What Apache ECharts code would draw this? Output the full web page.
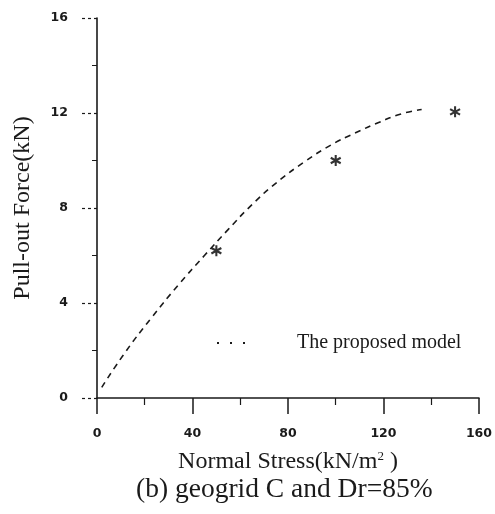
<!DOCTYPE html>
<html>
<head>
<meta charset="utf-8">
<script src="https://cdn.jsdelivr.net/npm/echarts@6/dist/echarts.min.js"></script>
<style>
  html, body { margin: 0; padding: 0; background: #fff; }
  #chart { width: 495px; height: 514px; }
</style>
</head>
<body>
<div id="chart"></div>
<script>
// 试验点
const testStress = [50, 100, 150];
const testForce = [6.2, 10.0, 12.05];

// 模型曲线
const modelStress = [2, 12, 23, 34, 45, 55, 65, 75, 87, 98, 108, 118, 127, 136];
const modelForce = [0.45, 1.95, 3.4, 4.75, 6.0, 7.1, 8.15, 9.05, 9.95, 10.65, 11.15, 11.6, 11.95, 12.15];

const xTicks = [0, 40, 80, 120, 160];
const yTicks = [0, 4, 8, 12, 16];

const serif = '"Liberation Serif", "Times New Roman", serif';
const ink = '#1a1a1a';

// 星号
const starPath = 'path://M-1.8,-10L1.8,-10L1.8,10L-1.8,10Z' +
    'M-9.6,-3.4L-7.8,-6.6L9.6,3.4L7.8,6.6Z' +
    'M-7.8,6.6L-9.6,3.4L7.8,-6.6L9.6,-3.4Z';

// 图例的点线
const dotsIcon = 'path://M0,0h2v2h-2zM13,0h2v2h-2zM26,0h2v2h-2z';

const chart = echarts.init(document.getElementById('chart'));
chart.setOption({
    animation: false,
    backgroundColor: '#fff',
    title: {
        text: '(b) geogrid C and Dr=85%',
        left: 136,
        top: 476,
        padding: 0,
        textStyle: { fontFamily: serif, fontSize: 27.5, fontWeight: 'normal', color: ink }
    },
    legend: {
        data: [{ name: 'The proposed model', icon: dotsIcon }],
        left: 217,
        top: 333,
        padding: 0,
        itemWidth: 28,
        itemHeight: 2,
        itemStyle: { color: ink, borderWidth: 0 },
        textStyle: { fontFamily: serif, fontSize: 20, color: ink, padding: [0, 0, 0, 47] }
    },
    grid: { left: 97, right: 14, top: 18, bottom: 116 },
    xAxis: {
        type: 'value',
        min: xTicks[0],
        max: xTicks[xTicks.length - 1],
        interval: 40,
        name: 'Normal Stress(kN/m{sup|2} )',
        nameLocation: 'middle',
        nameGap: 52,
        nameTextStyle: {
            fontFamily: serif, fontSize: 24, color: ink,
            rich: { sup: { fontFamily: serif, fontSize: 13, color: ink, verticalAlign: 'top', lineHeight: 13 } }
        },
        axisLine: { show: true, onZero: false, lineStyle: { color: ink, width: 1.6 } },
        axisTick: { show: true, length: 16, lineStyle: { color: ink, width: 1.5 } },
        minorTick: { show: true, splitNumber: 2, length: 7, lineStyle: { color: ink, width: 1.2 } },
        axisLabel: { margin: 29, fontFamily: '"DejaVu Sans", sans-serif', fontWeight: 'bold', fontSize: 12.5, color: ink },
        splitLine: { show: false }
    },
    yAxis: {
        type: 'value',
        min: yTicks[0],
        max: yTicks[yTicks.length - 1],
        interval: 4,
        name: 'Pull-out Force(kN)',
        nameLocation: 'middle',
        nameGap: 62,
        nameTextStyle: { fontFamily: serif, fontSize: 24, color: ink },
        axisLine: { show: true, onZero: false, lineStyle: { color: ink, width: 1.6 } },
        axisTick: { show: true, length: 18, lineStyle: { color: ink, width: 1.2, type: [3, 3] } },
        minorTick: { show: true, splitNumber: 2, length: 5, lineStyle: { color: ink, width: 1 } },
        axisLabel: { margin: 29, fontFamily: '"DejaVu Sans", sans-serif', fontWeight: 'bold', fontSize: 12.5, color: ink },
        splitLine: { show: false }
    },
    series: [
        {
            name: 'The proposed model',
            type: 'line',
            smooth: true,
            symbol: 'none',
            data: modelStress.map((x, i) => [x, modelForce[i]]),
            lineStyle: { color: ink, width: 1.6, type: [6, 5] },
            itemStyle: { color: ink }
        },
        {
            name: 'Test',
            type: 'scatter',
            symbol: starPath,
            symbolSize: 11,
            data: testStress.map((x, i) => [x, testForce[i]]),
            itemStyle: { color: '#000' }
        }
    ]
});
</script>
</body>
</html>
